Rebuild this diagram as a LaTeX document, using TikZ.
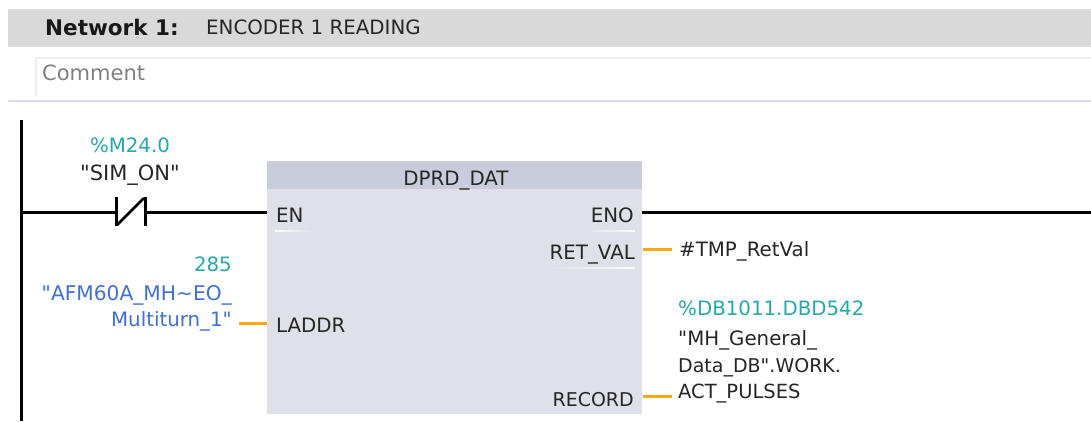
\documentclass[tikz,border=0pt]{standalone}
\usepackage{fontspec}
\newfontfamily\uifont{DejaVu Sans}
\definecolor{hdr}{HTML}{D9D9D9}
\definecolor{blockhead}{HTML}{C9CCDA}
\definecolor{blockbody}{HTML}{DFE0E8}
\definecolor{addr}{HTML}{22ABA8}
\definecolor{symb}{HTML}{3F6FD8}
\definecolor{wireo}{HTML}{FFA90F}
\definecolor{sep}{HTML}{DCDCEE}
\definecolor{boxb}{HTML}{F0F0F0}
\begin{document}
\begin{tikzpicture}[x=1pt,y=-1pt,
  lbl/.style={inner sep=0pt,font=\uifont\fontsize{19.8}{22}\selectfont,text=black!85},
  addrlbl/.style={lbl,text=addr},
  symlbl/.style={lbl,text=symb},
  wire/.style={line width=3pt,black},
  datawire/.style={line width=3pt,wireo},
  pinfadeR/.style={left color=white!90!blockbody,right color=blockbody},
  pinfadeL/.style={left color=blockbody,right color=white!90!blockbody}]
\useasboundingbox (0,0) rectangle (1091,421);
\fill[white] (0,0) rectangle (1091,421);
% header
\fill[hdr] (8,9) rectangle (1091,47);
\node[inner sep=0pt,anchor=base west,font=\uifont\fontsize{21.5}{24}\selectfont\bfseries,text=black!90] (nw) at (45,35) {Network 1:};
\node[lbl,anchor=base west] (title) at (206,34) {ENCODER 1 READING};
\draw[boxb,line width=1.5pt] (1091,58) -- (36,58) -- (36,96);
\node[lbl,anchor=base west,text=black!50,font=\uifont\fontsize{21}{22}\selectfont] (comment) at (42,80) {Comment};
\draw[sep,line width=2pt] (8,101) -- (1091,101);
% rail
\coordinate (railtop) at (21,120);
\coordinate (railbot) at (21,421);
\draw[wire] (railtop) -- (railbot);
\coordinate (rail) at (21,212);
% block
\node[inner sep=0pt,minimum width=375pt,minimum height=253pt,anchor=north west,fill=blockbody] (block) at (267,161) {};
\node[inner sep=0pt,minimum width=375pt,minimum height=28pt,anchor=north west,fill=blockhead] (head) at (267,161) {};
\node[lbl,anchor=base] (name) at (456,185) {DPRD\_DAT};
% contact
\coordinate (cl) at (117,212);
\coordinate (cr) at (145,212);
\draw[wire] (rail) -- (cl);
\draw[line width=3pt,black] (116,197) -- (116,226);
\draw[line width=3pt,black] (145,197) -- (145,226);
\draw[line width=2.5pt,black] (117,225) -- (144,198);
\draw[wire] (cr) -- (267,212);
\node[addrlbl,anchor=base] (a1) at (130,152) {\%M24.0};
\node[lbl,anchor=base,font=\uifont\fontsize{21}{22}\selectfont] (s1) at (130,180) {"SIM\_ON"};
% pins
\node[lbl,anchor=base west] (en) at (276,222) {EN};
\shade[pinfadeR] (275,230.2) rectangle (315,231.8);
\node[lbl,anchor=base east] (eno) at (634,222) {ENO};
\shade[pinfadeL] (582,230.2) rectangle (635,231.8);
\node[lbl,anchor=base east] (ret) at (635,259) {RET\_VAL};
\shade[pinfadeL] (545,267.2) rectangle (635,268.8);
\node[lbl,anchor=base west] (laddr) at (276,332) {LADDR};
\node[lbl,anchor=base east,font=\uifont\fontsize{19}{22}\selectfont] (rec) at (634,406) {RECORD};
% outputs
\coordinate (enoend) at (1091,212);
\draw[wire] (642,212) -- (enoend);
\node[addrlbl,anchor=base east] (n285) at (232,271) {285};
\node[symlbl,anchor=base east,font=\uifont\fontsize{20.2}{22}\selectfont] (s2) at (232,300) {"AFM60A\_MH\textasciitilde EO\_};
\node[symlbl,anchor=base east] (s3) at (232,326) {Multiturn\_1"};
\draw[datawire] (239,323) -- (267,323);
\draw[datawire] (643,249) -- (672,249);
\node[lbl,anchor=base west] (tmp) at (679,256) {\#TMP\_RetVal};
\node[addrlbl,anchor=base west] (a3) at (678,315) {\%DB1011.DBD542};
\node[lbl,anchor=base west] (d1) at (678,345) {"MH\_General\_};
\node[lbl,anchor=base west,font=\uifont\fontsize{19}{22}\selectfont] (d2) at (678,372) {Data\_DB".WORK.};
\node[lbl,anchor=base west,font=\uifont\fontsize{19.5}{22}\selectfont] (d3) at (678,398) {ACT\_PULSES};
\draw[datawire] (643,396) -- (672,396);
\end{tikzpicture}
\end{document}
